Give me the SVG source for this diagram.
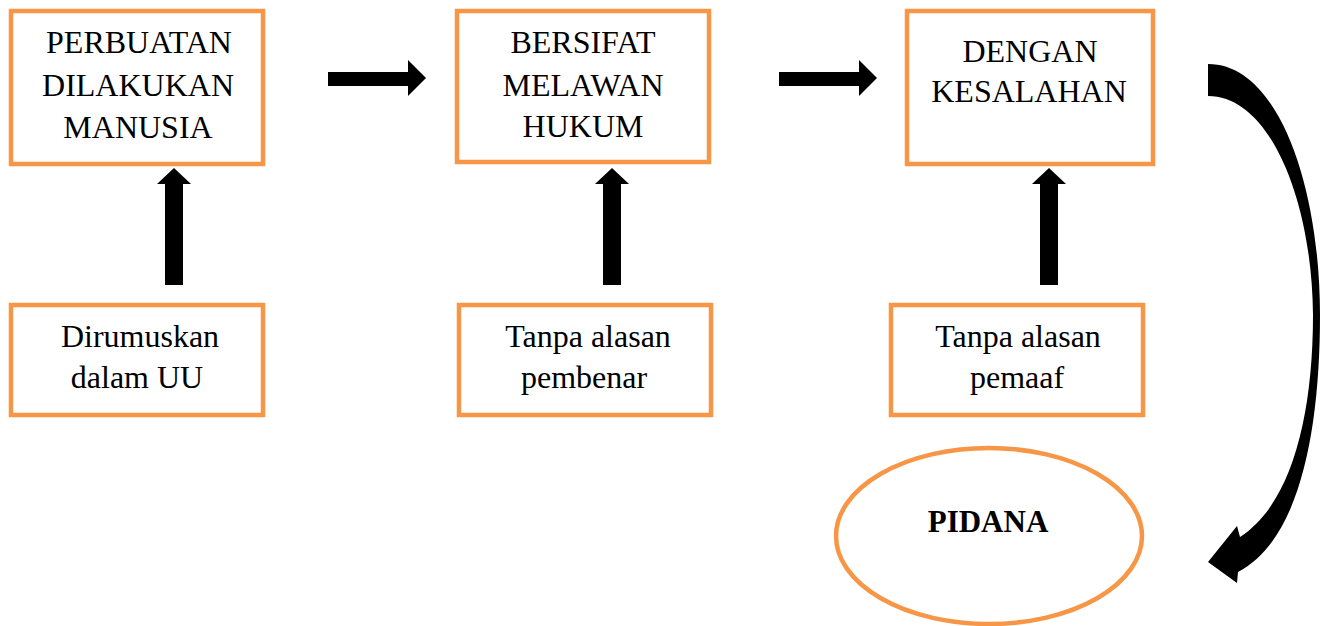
<svg xmlns="http://www.w3.org/2000/svg" width="1321" height="626" viewBox="0 0 1321 626">
<style>
.box{fill:#ffffff;stroke:#F79646;stroke-width:4.5}
.t{font-family:"Liberation Serif","Times New Roman",serif;font-size:32px;fill:#000;text-anchor:middle}
.b{font-weight:bold;font-size:31px}
.arr{fill:#000}
</style>
<rect width="1321" height="626" fill="#ffffff"/>
<g id="n1"><rect class="box" x="11" y="11" width="252" height="153"/>
<text class="t" x="139" y="53">PERBUATAN</text><text class="t" x="138" y="96">DILAKUKAN</text><text class="t" x="138" y="138">MANUSIA</text></g>
<g id="n2"><rect class="box" x="457" y="11" width="252" height="151"/>
<text class="t" x="583" y="53">BERSIFAT</text><text class="t" x="583" y="96">MELAWAN</text><text class="t" x="583" y="137">HUKUM</text></g>
<g id="n3"><rect class="box" x="907" y="11" width="246" height="153"/>
<text class="t" x="1030" y="62">DENGAN</text><text class="t" x="1029" y="102">KESALAHAN</text></g>
<g id="n4"><rect class="box" x="11" y="305" width="252" height="110"/>
<text class="t" x="140" y="347">Dirumuskan</text><text class="t" x="137" y="388">dalam UU</text></g>
<g id="n5"><rect class="box" x="459" y="305" width="252" height="110"/>
<text class="t" x="588" y="347">Tanpa alasan</text><text class="t" x="584" y="388">pembenar</text></g>
<g id="n6"><rect class="box" x="891" y="305" width="252" height="110"/>
<text class="t" x="1018" y="347">Tanpa alasan</text><text class="t" x="1017" y="388">pemaaf</text></g>
<g id="n7"><ellipse class="box" cx="989" cy="536" rx="153" ry="88"/>
<text class="t b" x="988" y="532">PIDANA</text></g>
<g id="connectors">
<polygon class="arr" points="328,72 408,72 408,60 426,78 408,96 408,86 328,86"/>
<polygon class="arr" points="779,72 859,72 859,60 877,78 859,96 859,86 779,86"/>
<polygon class="arr" points="165,285 165,184 157,184 174,168 191,184 183,184 183,285"/>
<polygon class="arr" points="603,285 603,184 595,184 612,168 629,184 621,184 621,285"/>
<polygon class="arr" points="1040,285 1040,184 1032,184 1049,168 1066,184 1058,184 1058,285"/>
<path class="arr" d="M1208,64 L1208,96 C1270,96 1312,200 1313,315 C1313,420 1290,505 1240,537 L1237,526 L1208,562 L1237,583 L1238,572 C1300,540 1320,430 1320,315 C1320,190 1280,64 1208,64 Z"/>
</g>
</svg>
